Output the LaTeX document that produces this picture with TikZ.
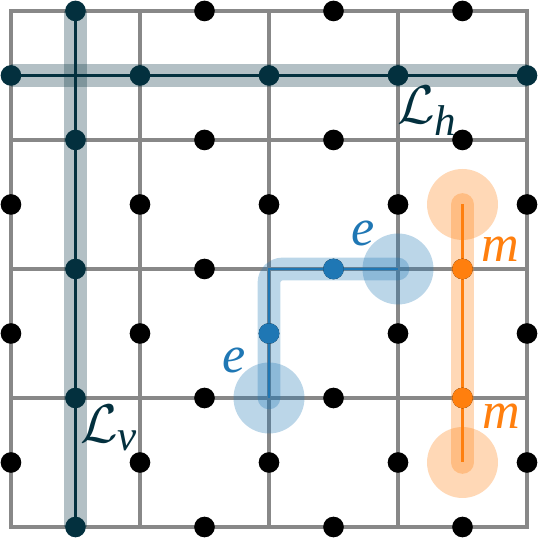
\documentclass[tikz,border=0pt]{standalone}
\usepackage{fontspec}
\newfontfamily\lblfont{Liberation Serif}
\definecolor{dk}{RGB}{3,48,62}
\definecolor{bl}{RGB}{31,119,180}
\definecolor{orng}{RGB}{255,127,14}
\definecolor{gridgray}{RGB}{136,136,136}
\newcommand{\subit}[1]{\hbox{\lblfont\itshape\fontsize{9.5}{11}\selectfont #1}}
\begin{document}
\begin{tikzpicture}[x=1cm,y=1cm,
  dotnode/.style={circle,fill=#1,inner sep=0pt,minimum size=0.16cm},
  dotnode/.default=black,
  band/.style={#1,opacity=0.3,line width=5pt},
  thin/.style={#1,line width=0.65pt},
  bigcirc/.style={circle,fill=#1,fill opacity=0.3,inner sep=0pt,minimum size=0.55cm},
  lbl/.style={text=#1,inner sep=0pt,font=\lblfont\itshape\fontsize{11.5}{13}\selectfont},
  lname/.style={text=dk,inner sep=0pt,font=\fontsize{12.5}{15}\selectfont}]
\useasboundingbox (-0.085,-0.093) rectangle (4.093,4.085);
% coordinates
\foreach \i in {0,...,4}{\foreach \j in {0,...,4}{\coordinate (P-\i-\j) at (\i,\j);}}
\foreach \i in {0,...,3}{\foreach \j in {0,...,4}{\coordinate (H-\i-\j) at (\i+0.5,\j);}}
\foreach \i in {0,...,4}{\foreach \j in {0,...,3}{\coordinate (V-\i-\j) at (\i,\j+0.5);}}
\foreach \i in {0,...,3}{\foreach \j in {0,...,3}{\coordinate (Q-\i-\j) at (\i+0.5,\j+0.5);}}
% grid
\draw[gridgray,line width=0.7pt] (P-0-0) grid (P-4-4);
\draw[gridgray,line width=0.7pt] (P-0-0) rectangle (P-4-4);
% logical operator bands
\draw[band=dk] (H-0-0) -- (H-0-4);
\draw[band=dk] (V-0-3) -- (V-4-3);
% e string
\draw[band=bl,line cap=round,rounded corners=3pt] (P-2-1) -- (P-2-2) -- (P-3-2);
\node[bigcirc=bl] (ec1) at (P-2-1) {};
\node[bigcirc=bl] (ec2) at (P-3-2) {};
% m string
\draw[band=orng,line cap=round] (Q-3-2) -- (Q-3-0);
\node[bigcirc=orng] (mc1) at (Q-3-2) {};
\node[bigcirc=orng] (mc2) at (Q-3-0) {};
% thin lines
\draw[thin=dk] (H-0-0) -- (H-0-4);
\draw[thin=dk] (V-0-3) -- (V-4-3);
\draw[thin=bl] (P-2-1) -- (P-2-2) -- (P-3-2);
\draw[thin=orng] (Q-3-2) -- (Q-3-0);
% black dots
\foreach \i in {1,...,3}{\foreach \j in {0,...,4}{\node[dotnode] (dh-\i-\j) at (H-\i-\j) {};}}
\foreach \i in {1,...,4}{\foreach \j in {0,1,2}{\node[dotnode] (dv-\i-\j) at (V-\i-\j) {};}}
% dark dots
\foreach \j in {0,...,4}{\node[dotnode=dk] (lv-\j) at (H-0-\j) {};}
\foreach \j in {0,1,2}{\node[dotnode] (dv-0-\j) at (V-0-\j) {};}
\foreach \i in {0,...,4}{\node[dotnode=dk] (lh-\i) at (V-\i-3) {};}
% colored dots
\node[dotnode=bl] (be1) at (V-2-1) {};
\node[dotnode=bl] (be2) at (H-2-2) {};
\node[dotnode=orng] (om1) at (H-3-2) {};
\node[dotnode=orng] (om2) at (H-3-1) {};
% labels
\node[lname] (Lh) at (3.23,3.225) {$\mathcal{L}_{\subit{h}}$};
\node[lname] (Lv) at (0.767,0.767) {$\mathcal{L}_{\subit{v}}$};
\node[lbl=bl] (e1) at (2.729,2.279) {e};
\node[lbl=bl] (e2) at (1.729,1.287) {e};
\node[lbl=orng] (m1) at (3.79,2.155) {m};
\node[lbl=orng] (m2) at (3.80,0.86) {m};
\end{tikzpicture}
\end{document}
